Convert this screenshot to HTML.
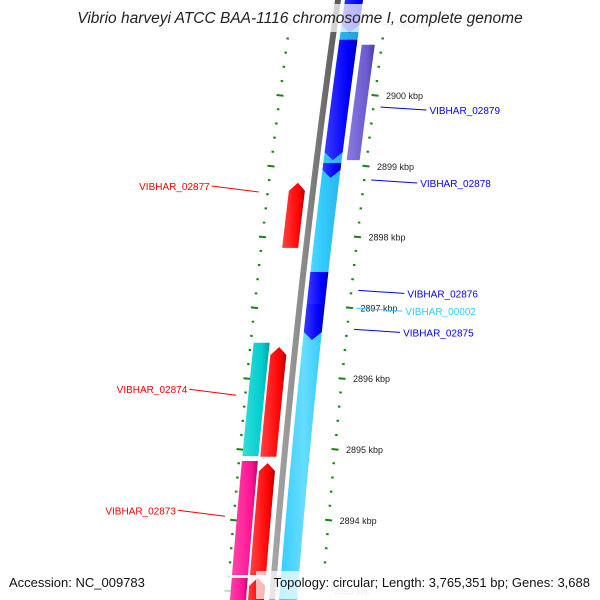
<!DOCTYPE html>
<html><head><meta charset="utf-8"><style>
html,body{margin:0;padding:0;background:#fff}
svg{display:block}
text{font-family:"Liberation Sans",sans-serif}
</style></head><body>
<svg id="map" width="600" height="600" viewBox="0 0 600 600" xmlns="http://www.w3.org/2000/svg">
<defs>
<linearGradient id="g-blue" x1="0" x2="1"><stop offset="0" stop-color="#3a3aff"/><stop offset="0.7" stop-color="#0000ff"/><stop offset="1" stop-color="#0000b0"/></linearGradient>
<linearGradient id="g-sky" x1="0" x2="1"><stop offset="0" stop-color="#33ccff"/><stop offset="0.3" stop-color="#66ddff"/><stop offset="0.5" stop-color="#33ccff"/><stop offset="1" stop-color="#2299cc"/></linearGradient>
<linearGradient id="g-red" x1="0" x2="1"><stop offset="0" stop-color="#ff4444"/><stop offset="0.75" stop-color="#ff0000"/><stop offset="1" stop-color="#b00000"/></linearGradient>
<linearGradient id="g-teal" x1="0" x2="1"><stop offset="0" stop-color="#33dddd"/><stop offset="0.75" stop-color="#00cccc"/><stop offset="1" stop-color="#009999"/></linearGradient>
<linearGradient id="g-pink" x1="0" x2="1"><stop offset="0" stop-color="#ff44aa"/><stop offset="0.75" stop-color="#ff1493"/><stop offset="1" stop-color="#b00e66"/></linearGradient>
<linearGradient id="g-purple" x1="0" x2="1"><stop offset="0" stop-color="#8a7ae0"/><stop offset="0.75" stop-color="#6a5acd"/><stop offset="1" stop-color="#4a3a9d"/></linearGradient>
<linearGradient id="g-gray" x1="0" x2="1"><stop offset="0" stop-color="#aaaaaa"/><stop offset="0.5" stop-color="#888"/><stop offset="1" stop-color="#555"/></linearGradient>
</defs>
<g id="ticks"></g>
<g id="genes"></g>
<g id="labels"></g>
<rect x="72" y="4" width="460" height="28" fill="#fff" opacity="0.72"/>
<text x="300" y="23" text-anchor="middle" font-size="15.5" font-style="italic" fill="#222">Vibrio harveyi ATCC BAA-1116 chromosome I, complete genome</text>
<rect x="256" y="571" width="340" height="28" fill="#fff" opacity="0.72"/>
<text x="9" y="587" font-size="13" fill="#111">Accession: NC_009783</text>
<text x="590" y="587" text-anchor="end" font-size="13" fill="#111">Topology: circular; Length: 3,765,351 bp; Genes: 3,688</text>
</svg>
<script>
// data (kbp coordinates)
const tickMajors = [2901, 2900, 2899, 2898, 2897, 2896, 2895, 2894, 2893];
const tickLabels = ["2901 kbp","2900 kbp","2899 kbp","2898 kbp","2897 kbp","2896 kbp","2895 kbp","2894 kbp","2893 kbp"];
const geneNames = ["VIBHAR_02879","VIBHAR_02879b","VIBHAR_02878","VIBHAR_02877","VIBHAR_02876","VIBHAR_02875","VIBHAR_02874","VIBHAR_02874r","VIBHAR_02873","VIBHAR_02873r","VIBHAR_02872","VIBHAR_02872r","VIBHAR_02880","VIBHAR_02879f"];
const geneStarts = [2900.78, 2901.6, 2899.04, 2897.84, 2897.50, 2897.06, 2896.50, 2896.44, 2894.83, 2894.80, 2893.18, 2893.18, 2900.71, 2897.06];
const geneEnds   = [2899.08, 2900.88, 2898.83, 2898.76, 2897.06, 2896.54, 2894.90, 2894.89, 2893.22, 2893.22, 2892.70, 2892.70, 2899.08, 2897.06];
const geneLanes  = ["in","in","in","red","in","in","out","red","out","red","out","red","purple","in"];
const geneColors = ["blue","blue","blue","red","blue","blue","teal","red","pink","red","pink","red","purple","blue"];
const geneArrow  = ["down","down","down","up","none","down","none","up","none","up","none","up","none","none"];
const labelNames = ["VIBHAR_02879","VIBHAR_02878","VIBHAR_02877","VIBHAR_02876","VIBHAR_00002","VIBHAR_02875","VIBHAR_02874","VIBHAR_02873"];
const labelColors = ["#0000ff","#0000ff","#ff0000","#0000ff","#33ccff","#0000ff","#ff0000","#ff0000"];
const labelKbp = [2899.83, 2898.8, 2898.63, 2897.24, 2896.99, 2896.69, 2895.76, 2894.05];
const labelSide = ["r","r","l","r","r","r","l","l"];

// axis functions
const Y0 = 95, KBP0 = 2900, PXK = 70.8;
function yOf(k){ return Y0 + (KBP0 - k) * PXK; }
function bx(y){ return 338 - 0.1416*y + 5.27e-5*y*y; }
const lanes = {in:[7,25], red:[-24,-8], out:[-42,-26], purple:[30,43]};
const NS='http://www.w3.org/2000/svg';
function mk(tag, attrs, parent){ const e=document.createElementNS(NS,tag); for(const k in attrs) e.setAttribute(k,attrs[k]); parent.appendChild(e); return e; }

const G = document.getElementById('genes');
(function(){
  let p=[]; for(let y=-10;y<=610;y+=10) p.push((bx(y)-3)+','+y);
  for(let y=610;y>=-10;y-=10) p.push((bx(y)+3)+','+y);
  const e=mk('polygon',{points:p.join(' '),fill:'url(#g-gray)'},G);
  
  
  let q=[]; for(let y=-10;y<=610;y+=10) q.push((bx(y)+lanes.in[0])+','+y);
  for(let y=610;y>=-10;y-=10) q.push((bx(y)+lanes.in[1])+','+y);
  const c=mk('polygon',{points:q.join(' '),fill:'url(#g-sky)'},G);
  
  
})();

const fills={blue:'url(#g-blue)',red:'url(#g-red)',teal:'url(#g-teal)',pink:'url(#g-pink)',purple:'url(#g-purple)'};
for(let i=0;i<geneNames.length;i++){
  const ya=yOf(geneStarts[i]), yb=yOf(geneEnds[i]);
  if(Math.abs(yb-ya)<1) continue;
  const top=Math.min(ya,yb), bot=Math.max(ya,yb);
  const L=lanes[geneLanes[i]]; const ah=8;
  const t2 = geneArrow[i]==='up'? top+ah : top;
  const b2 = geneArrow[i]==='down'? bot-ah : bot;
  let p=[];
  const n=12;
  for(let j=0;j<=n;j++){ const y=t2+(b2-t2)*j/n; p.push((bx(y)+L[0])+','+y); }
  if(geneArrow[i]==='down') p.push((bx(bot)+(L[0]+L[1])/2)+','+bot);
  for(let j=n;j>=0;j--){ const y=t2+(b2-t2)*j/n; p.push((bx(y)+L[1])+','+y); }
  if(geneArrow[i]==='up') p.push((bx(top)+(L[0]+L[1])/2)+','+top);
  const e=mk('polygon',{points:p.join(' '),fill:fills[geneColors[i]]},G);
  
  
}

// ticks
const T=document.getElementById('ticks');
for(let k=2892.6;k<=2901.7;k+=0.2){
  const kk=Math.round(k*10)/10; const y=yOf(kk);
  if(y<20||y>600) continue;
  const major=Math.abs(kk-Math.round(kk))<1e-6;
  const len=major?7:2.5;
  const fade = (y<34||y>572)?0.25:1;
  [50,-45].forEach(off=>{
    const x=bx(y)+off;
    const e=mk('line',{x1:x-len/2,y1:y,x2:x+len/2,y2:y+len*0.1,stroke:'#118811','stroke-width':2,opacity:fade},T);
    
    
  });
}
tickMajors.forEach((k,i)=>{
  const y=yOf(k);
  const t=mk('text',{x:bx(y)+61,y:y+4,'font-size':9,fill:'#222'},T);
  t.textContent=tickLabels[i];
  if(y<34||y>572) t.setAttribute('opacity','0.3');
  
  
});

// labels
const LB=document.getElementById('labels');
labelNames.forEach((nm,i)=>{
  const y=yOf(labelKbp[i]);
  let x1,x2,tx,anchor,ty;
  if(labelSide[i]==='r'){ x1=bx(y)+57; x2=x1+46; tx=x2+3; anchor='start'; ty=y+6; }
  else { x1=bx(y)-54; x2=x1-47; tx=x2-2; anchor='end'; ty=y-3; }
  const l=mk('line',{x1:x1,y1:y,x2:x2,y2:ty-3,stroke:labelColors[i],'stroke-width':1},LB);
  
  
  const t=mk('text',{x:tx,y:ty+1,'text-anchor':anchor,'font-size':10,fill:labelColors[i]},LB);
  t.textContent=nm;
  
  
});
</script>
</body></html>
